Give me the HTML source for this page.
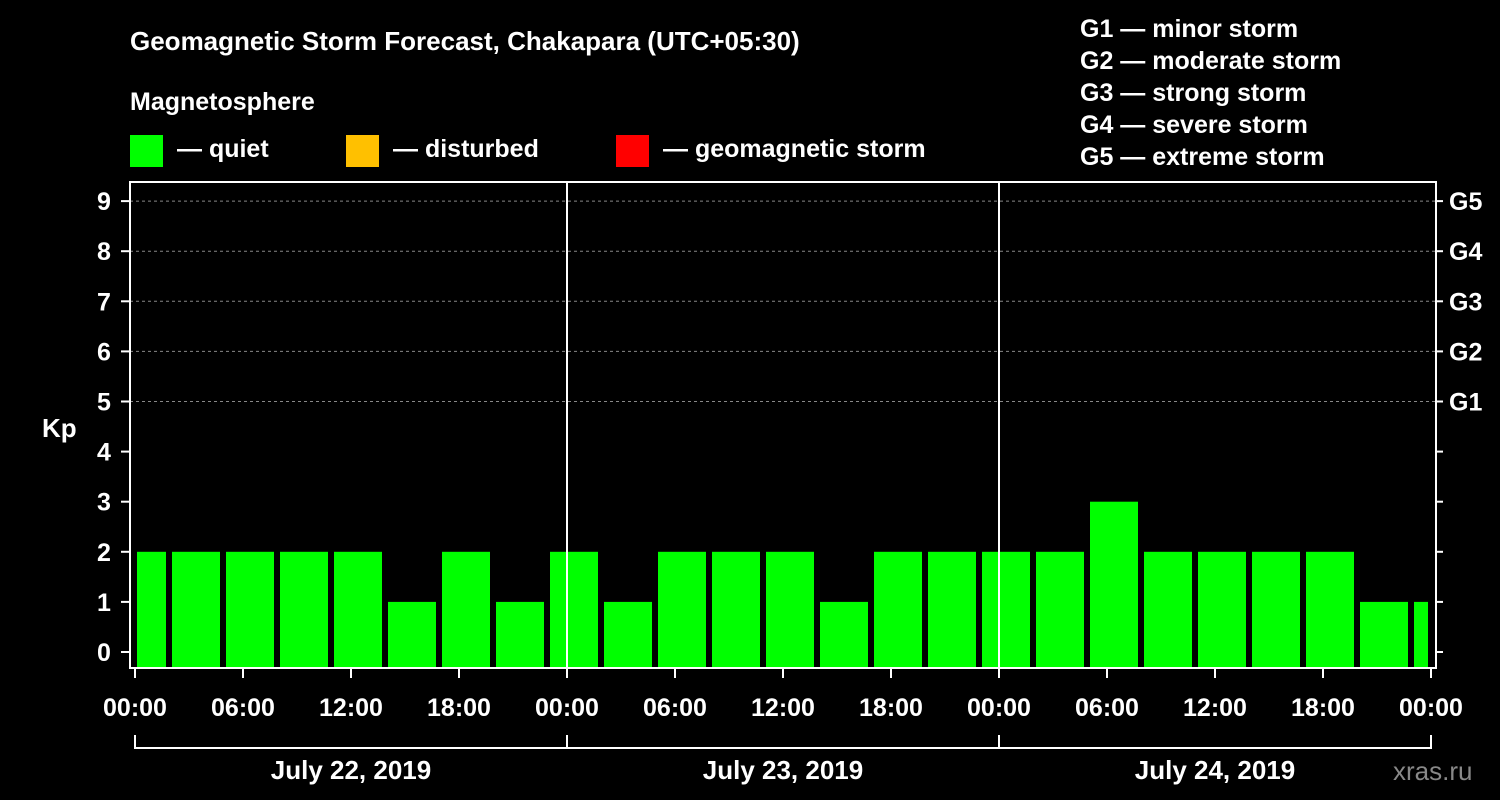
<!DOCTYPE html>
<html><head><meta charset="utf-8"><style>
body{margin:0;background:#000;}
svg{display:block;font-family:"Liberation Sans",Arial,sans-serif;font-weight:bold;}
</style></head><body>
<svg id="c" width="1500" height="800" viewBox="0 0 1500 800">
<rect width="1500" height="800" fill="#000"/>
<text x="130" y="50" fill="#fff" font-size="26">Geomagnetic Storm Forecast, Chakapara (UTC+05:30)</text>
<text x="130" y="110" fill="#fff" font-size="25">Magnetosphere</text>
<g><rect x="130" y="135" width="33" height="32" fill="#00ff00"/><text x="177" y="157" fill="#fff" font-size="25">— quiet</text></g>
<g><rect x="346" y="135" width="33" height="32" fill="#ffc000"/><text x="393" y="157" fill="#fff" font-size="25">— disturbed</text></g>
<g><rect x="616" y="135" width="33" height="32" fill="#ff0000"/><text x="663" y="157" fill="#fff" font-size="25">— geomagnetic storm</text></g>
<g fill="#fff" font-size="25">
<text x="1080" y="37">G1 — minor storm</text>
<text x="1080" y="69">G2 — moderate storm</text>
<text x="1080" y="101">G3 — strong storm</text>
<text x="1080" y="133">G4 — severe storm</text>
<text x="1080" y="165">G5 — extreme storm</text>
</g>
<text x="42" y="437" fill="#fff" font-size="26">Kp</text>
<text x="1393" y="780" fill="#888" font-size="26" font-weight="normal">xras.ru</text>
<g id="grid"></g><g id="bars"></g><g id="axes"></g>
</svg>
<script>
const kpValues=[2,2,2,2,2,1,2,1,2,1,2,2,2,1,2,2,2,2,3,2,2,2,2,1,1];
const yTicks=[0,1,2,3,4,5,6,7,8,9];
const gLabels=["G1","G2","G3","G4","G5"];
const timeLabels=["00:00","06:00","12:00","18:00"];
const dayLabels=["July 22, 2019","July 23, 2019","July 24, 2019"];
const NS="http://www.w3.org/2000/svg";
const X0=135,DAY=432,PL=130,PR=1436,PT=182,PB=668;
const y=k=>652-50.1*k;
const xh=h=>X0+h*18; // hours from start
function mk(t,a,p){const e=document.createElementNS(NS,t);for(const k in a)e.setAttribute(k,a[k]);(p||document.getElementById('axes')).appendChild(e);return e;}
const grid=document.getElementById('grid'),bars=document.getElementById('bars');
yTicks.forEach(k=>{if(k>=5){const l=mk('line',{x1:PL,x2:PR,y1:y(k),y2:y(k),stroke:'#888','stroke-dasharray':'3,3','stroke-width':1},grid);

}});
kpValues.forEach((v,i)=>{let s=xh(-1+3*i)+3-2,e=s+48;s=Math.max(s,X0+2);e=Math.min(e,xh(72)-3);
const col=v>=5?'#ff0000':(v>=4?'#ffc000':'#00ff00');
const r=mk('rect',{x:s,y:y(v),width:e-s,height:PB-y(v),fill:col},bars);

});
const ax=document.getElementById('axes');
const f=mk('rect',{x:PL,y:PT,width:PR-PL,height:PB-PT,fill:'none',stroke:'#fff','stroke-width':2});


[1,2].forEach(d=>{const l=mk('line',{x1:X0+d*DAY,x2:X0+d*DAY,y1:PT,y2:PB,stroke:'#fff','stroke-width':2});

});
yTicks.forEach(k=>{mk('line',{x1:PL-9,x2:PL,y1:y(k),y2:y(k),stroke:'#fff','stroke-width':2});
mk('line',{x1:PR,x2:PR+7,y1:y(k),y2:y(k),stroke:'#fff','stroke-width':2});
const t=mk('text',{x:104,y:y(k)+9,fill:'#fff','font-size':25,'text-anchor':'middle'});t.textContent=k;

});
gLabels.forEach((g,i)=>{const t=mk('text',{x:1449,y:y(5+i)+9,fill:'#fff','font-size':25});t.textContent=g;

});
for(let d=0;d<=3;d++){for(let j=0;j<4;j++){if(d==3&&j>0)break;const h=d*24+j*6;
mk('line',{x1:xh(h),x2:xh(h),y1:PB,y2:PB+10,stroke:'#fff','stroke-width':2});
const t=mk('text',{x:xh(h),y:716,fill:'#fff','font-size':25,'text-anchor':'middle'});t.textContent=timeLabels[j];

}
mk('line',{x1:X0+d*DAY,x2:X0+d*DAY,y1:735,y2:749,stroke:'#fff','stroke-width':2});}
mk('line',{x1:X0,x2:X0+3*DAY,y1:748,y2:748,stroke:'#fff','stroke-width':2});
dayLabels.forEach((s,d)=>{const t=mk('text',{x:X0+d*DAY+DAY/2,y:779,fill:'#fff','font-size':26,'text-anchor':'middle'});t.textContent=s;

});
</script></body></html>
